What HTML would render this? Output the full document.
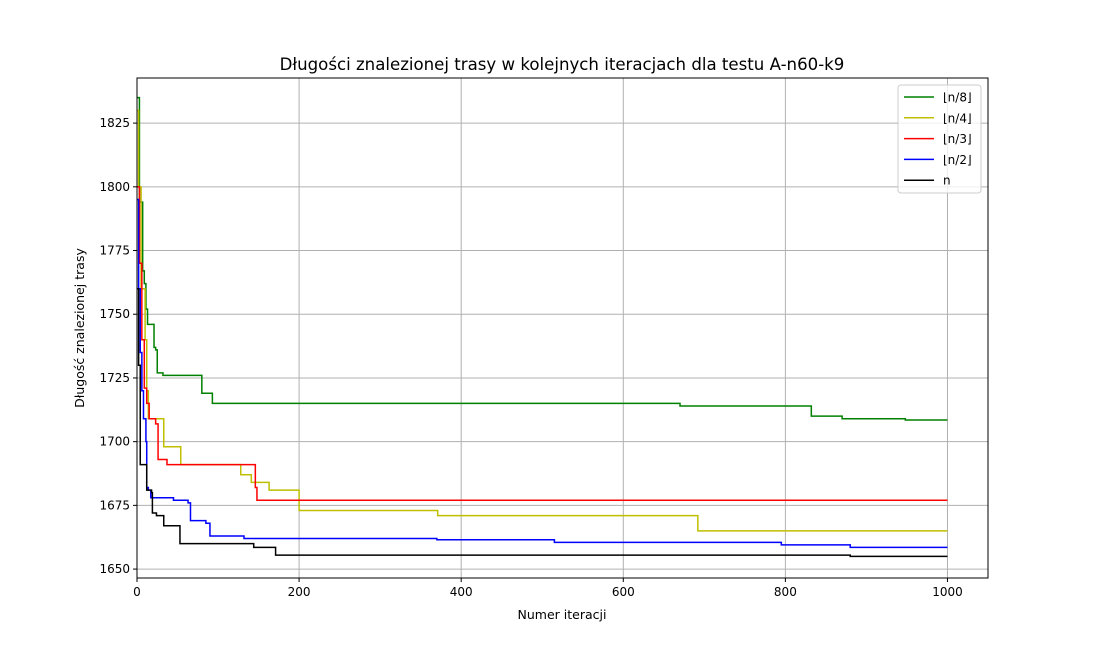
<!DOCTYPE html>
<html><head><meta charset="utf-8"><style>
body{margin:0;background:#fff}
svg text{font-family:"DejaVu Sans","Liberation Sans",sans-serif;fill:#000}
</style></head><body>
<svg id="c" width="1098" height="650" xmlns="http://www.w3.org/2000/svg"></svg>
<script>
const xTicks=[0,200,400,600,800,1000];
const yTicks=[1650,1675,1700,1725,1750,1775,1800,1825];
const seriesNames=["⌊n/8⌋","⌊n/4⌋","⌊n/3⌋","⌊n/2⌋","n"];
const seriesColors=["#008000","#bfbf00","#ff0000","#0000ff","#000000"];
const greenIter=[0,3,7,9,11,13,21,23,25,32,80,93,670,832,870,948,1000];
const greenVal=[1835,1794,1767,1762,1752,1746,1737,1736,1727,1726,1719,1715,1714,1710,1709,1708.5,1708.5];
const yellowIter=[0,2,5,10,12,14,33,54,128,141,163,200,371,692,1000];
const yellowVal=[1830,1800,1760,1740,1720,1709,1698,1691,1687,1684,1681,1673,1671,1665,1665];
const redIter=[0,3,6,9,12,15,23,26,37,146,148,1000];
const redVal=[1800,1770,1740,1721,1715,1709,1707,1693,1691,1682,1677,1677];
const blueIter=[0,2,4,6,8,11,12,14,17,45,63,66,85,90,132,370,515,795,880,1000];
const blueVal=[1795,1760,1735,1720,1709,1700,1682,1681,1678,1677,1676,1669,1668,1663,1662,1661.5,1660.5,1659.5,1658.5,1658.5];
const blackIter=[0,2,4,12,18,19,24,33,53,144,171,880,1000];
const blackVal=[1760,1730,1691,1681,1680,1672,1671,1667,1660,1658.5,1655.5,1655,1655];
const allIter=[greenIter,yellowIter,redIter,blueIter,blackIter];
const allVal=[greenVal,yellowVal,redVal,blueVal,blackVal];

const L=137,R=988,T=78,B=578;
const X=v=>L+(v+0)*(R-L)/1050;
const Y=v=>B-(v-1646.5)*(B-T)/(1842.7-1646.5);
const svg=document.getElementById('c');
const NS="http://www.w3.org/2000/svg";
function mk(tag,attrs,parent){const e=document.createElementNS(NS,tag);for(const k in attrs)e.setAttribute(k,attrs[k]);(parent||svg).appendChild(e);return e;}

xTicks.forEach(t=>{
 const g=mk('line',{x1:X(t),x2:X(t),y1:T,y2:B,stroke:'#b0b0b0','stroke-width':1});
 
 
 mk('line',{x1:X(t),x2:X(t),y1:B,y2:B+4,stroke:'#000'});
 const tx=mk('text',{x:X(t),y:B+18,'font-size':12,'text-anchor':'middle'});tx.textContent=t;
 
 
});
yTicks.forEach(t=>{
 const g=mk('line',{x1:L,x2:R,y1:Y(t),y2:Y(t),stroke:'#b0b0b0','stroke-width':1});
 
 
 mk('line',{x1:L-4,x2:L,y1:Y(t),y2:Y(t),stroke:'#000'});
 const tx=mk('text',{x:L-7,y:Y(t)+4,'font-size':12,'text-anchor':'end'});tx.textContent=t;
 
 
});
const clip=mk('clipPath',{id:'cp'});mk('rect',{x:L,y:T,width:R-L,height:B-T},clip);
allIter.forEach((it,s)=>{
 const v=allVal[s];let d='';
 for(let i=0;i<it.length;i++){
  if(i===0)d+=`M${X(it[0])},${Y(v[0])}`;
  else d+=`L${X(it[i])},${Y(v[i-1])}L${X(it[i])},${Y(v[i])}`;
 }
 const p=mk('path',{d:d,fill:'none',stroke:seriesColors[s],'stroke-width':1.5,'clip-path':'url(#cp)'});
 
 
});
const frame=mk('rect',{x:L,y:T,width:R-L,height:B-T,fill:'none',stroke:'#000','stroke-width':1});


const lg=mk('g',{});


mk('rect',{x:898,y:85,width:83,height:108,rx:3,fill:'#fff','fill-opacity':0.8,stroke:'#ccc'},lg);
seriesNames.forEach((n,i)=>{
 const y=97+i*20.8;
 const e=mk('g',{},lg);
 
 
 mk('line',{x1:904,x2:934,y1:y,y2:y,stroke:seriesColors[i],'stroke-width':1.5},e);
 const t=mk('text',{x:943,y:y+4.5,'font-size':12},e);t.textContent=n;
});
const title=mk('text',{x:562,y:70,'font-size':16.6,'text-anchor':'middle'});title.textContent='Długości znalezionej trasy w kolejnych iteracjach dla testu A-n60-k9';


const xl=mk('text',{x:562,y:619,'font-size':12.5,'text-anchor':'middle'});xl.textContent='Numer iteracji';


const yl=mk('text',{x:0,y:0,'font-size':12.5,'text-anchor':'middle',transform:'translate(84,328) rotate(-90)'});yl.textContent='Długość znalezionej trasy';


</script>
</body></html>
